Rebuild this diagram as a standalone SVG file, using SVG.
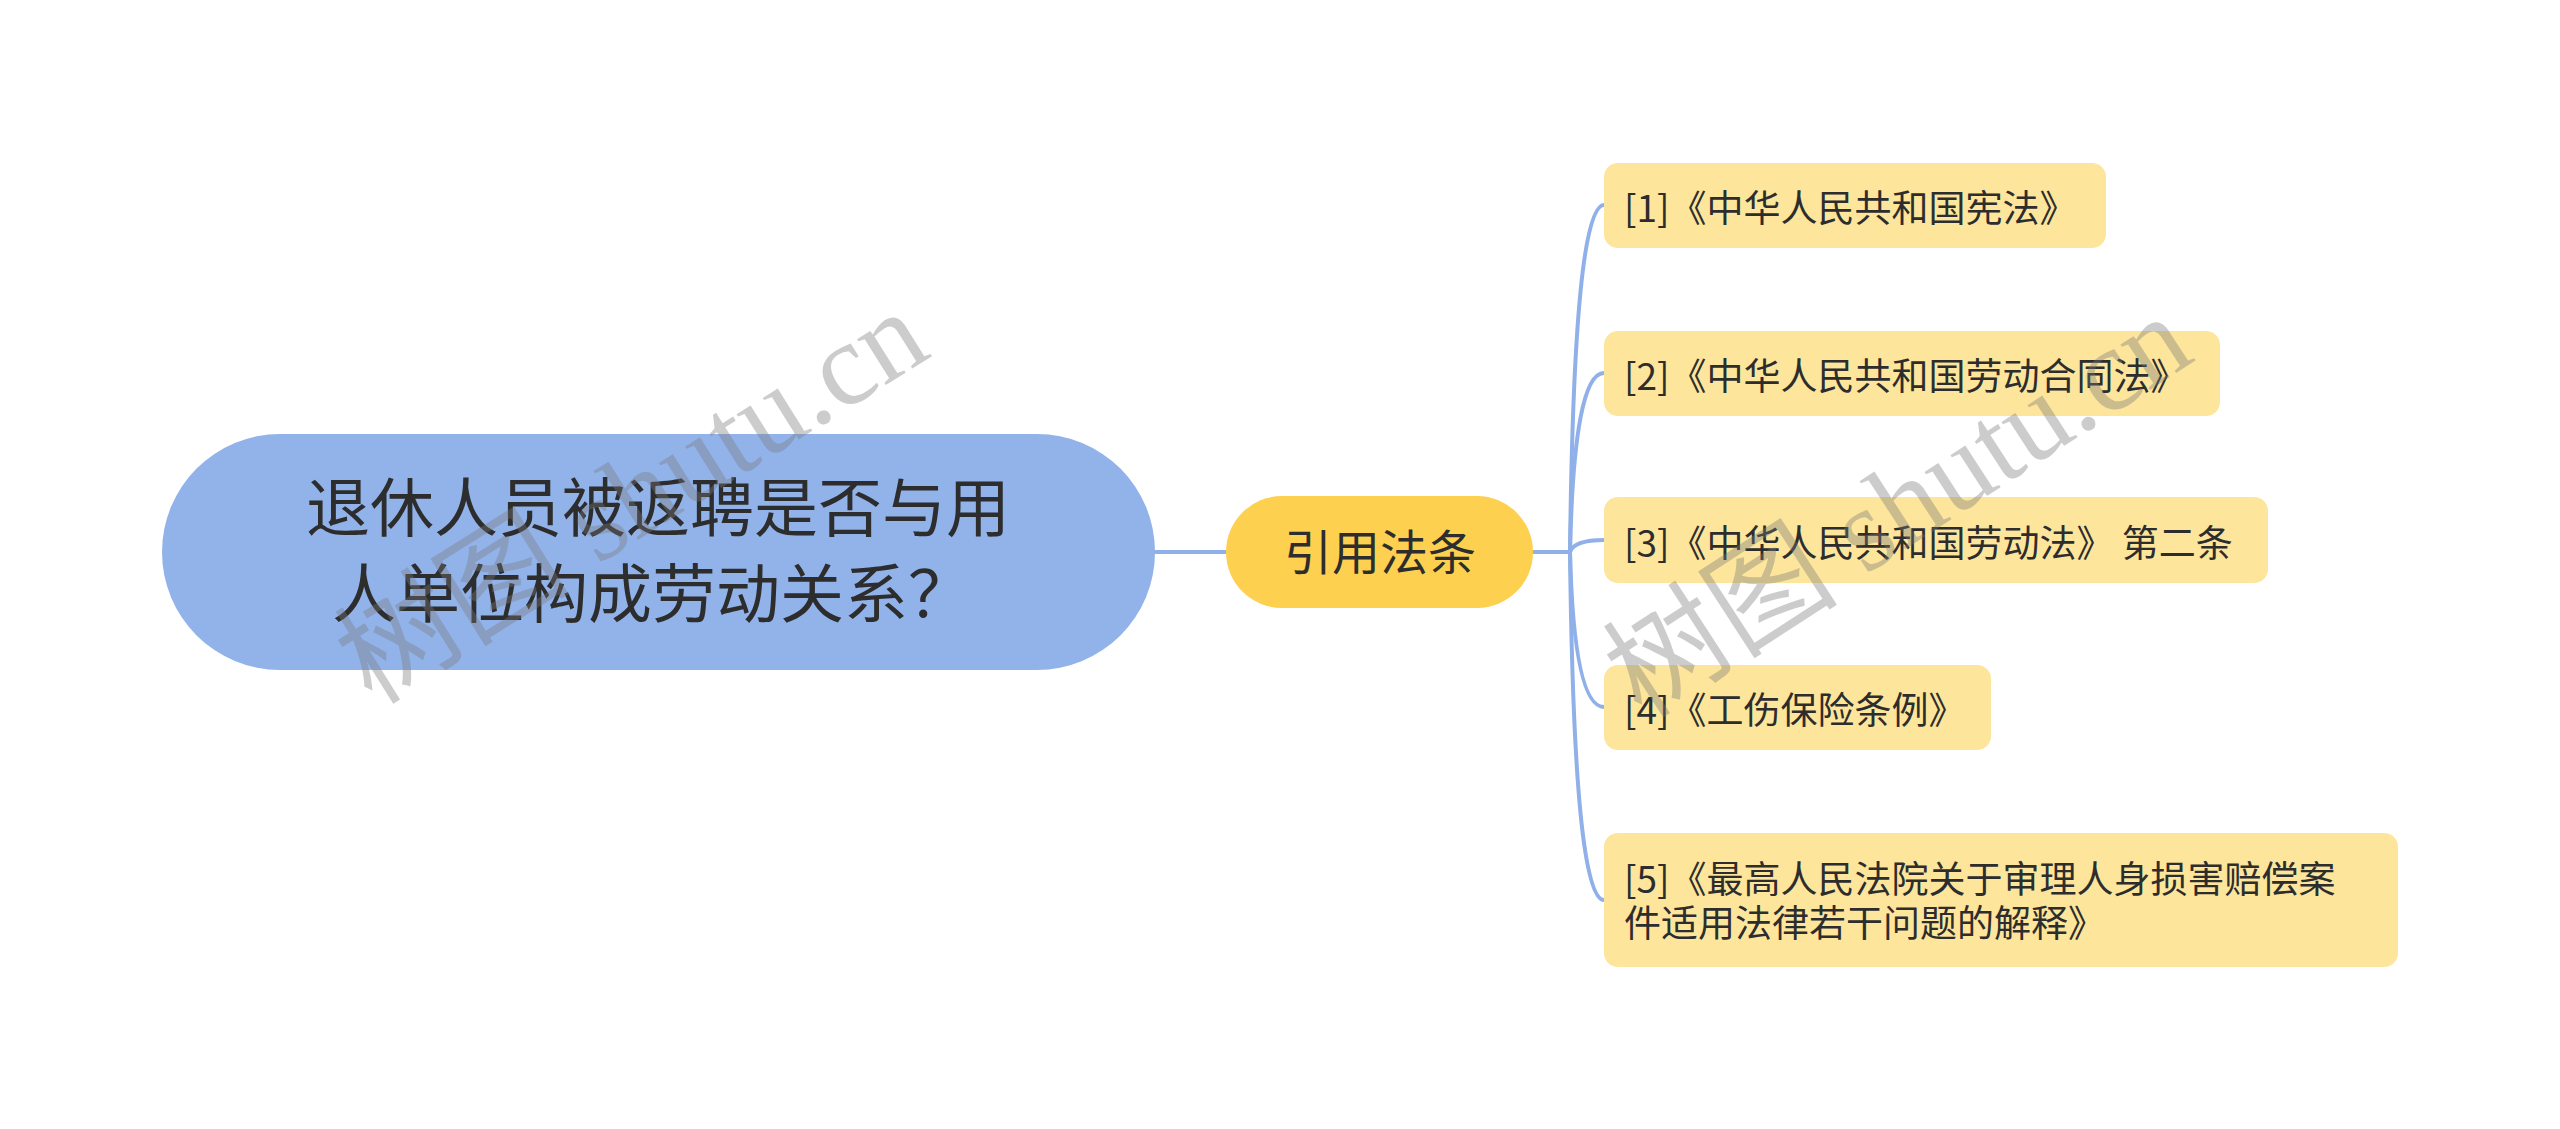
<svg xmlns="http://www.w3.org/2000/svg" width="2560" height="1129" viewBox="0 0 2560 1129">
<style>
.t{font-family:"Noto Sans CJK SC","Noto Sans",sans-serif;fill:#2d2d2d}
.leaf{fill:#fde69c}
.leaft{font-size:37px}
.con{fill:none;stroke:#8fb0e8;stroke-width:4;stroke-linecap:round}
.wm{font-family:"Liberation Serif","Noto Sans CJK SC",serif;font-size:118px;fill:#7a7a7a;fill-opacity:0.38}
</style>
<rect width="2560" height="1129" fill="#ffffff"/>
<g id="connectors">
<path class="con" d="M1154 552 L1226 552"/>
<path class="con" d="M1533 552 L1570 552"/>
<path class="con" d="M1570 552 Q1574 205 1604 205"/>
<path class="con" d="M1570 552 Q1574 373 1604 373"/>
<path class="con" d="M1570 552 Q1574 540 1604 540"/>
<path class="con" d="M1570 552 Q1574 707 1604 707"/>
<path class="con" d="M1570 552 Q1574 900 1604 900"/>
</g>
<g id="root">
<rect x="162" y="434" width="993" height="236" rx="118" fill="#91b3ea"/>
<text class="t" x="658" y="531" font-size="64" text-anchor="middle">退休人员被返聘是否与用</text>
<text class="t" x="652" y="617" font-size="64" text-anchor="middle">人单位构成劳动关系？</text>
</g>
<g id="child">
<rect x="1226" y="496" width="307" height="112" rx="56" fill="#fdd04f"/>
<text class="t" x="1380" y="570" font-size="48" text-anchor="middle">引用法条</text>
</g>
<g id="leaf1">
<rect class="leaf" x="1604" y="163" width="502" height="85" rx="14"/>
<text class="t leaft" x="1624" y="222">[1]《中华人民共和国宪法》</text>
</g>
<g id="leaf2">
<rect class="leaf" x="1604" y="331" width="616" height="85" rx="14"/>
<text class="t leaft" x="1624" y="390">[2]《中华人民共和国劳动合同法》</text>
</g>
<g id="leaf3">
<rect class="leaf" x="1604" y="497" width="664" height="86" rx="14"/>
<text class="t leaft" x="1624" y="557">[3]《中华人民共和国劳动法》 第二条</text>
</g>
<g id="leaf4">
<rect class="leaf" x="1604" y="665" width="387" height="85" rx="14"/>
<text class="t leaft" x="1624" y="724">[4]《工伤保险条例》</text>
</g>
<g id="leaf5">
<rect class="leaf" x="1604" y="833" width="794" height="134" rx="14"/>
<text class="t leaft" x="1624" y="893">[5]《最高人民法院关于审理人身损害赔偿案</text>
<text class="t leaft" x="1624" y="937">件适用法律若干问题的解释》</text>
</g>
<g id="watermarks">
<text class="wm" transform="translate(372 706) rotate(-32)">树图 shutu.cn</text>
<text class="wm" transform="translate(1642 720) rotate(-33)">树图 shutu.cn</text>
</g>
</svg>
